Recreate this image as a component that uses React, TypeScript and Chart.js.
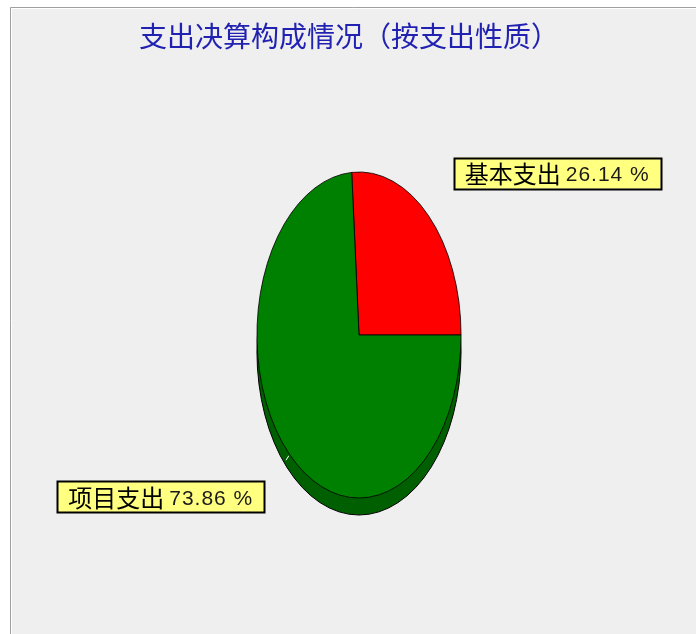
import { useEffect, useRef } from "react";
import { Chart, registerables } from "chart.js";

Chart.register(...registerables);

const TITLE = "支出决算构成情况（按支出性质）";
const categories = ["基本支出", "项目支出"];
const shares = [26.14, 73.86];
const sliceColors = ["#ff0000", "#008000"];
const SHADOW_COLOR = "#005f00";
const TITLE_COLOR = "#2222b2";

const W = 696;
const H = 634;
const SX = 0.626; // horizontal squash of the pie (ellipse)
const DEPTH = 17; // 3D depth of the pie

export default function App() {
  const ref = useRef<HTMLCanvasElement>(null);

  useEffect(() => {
    const canvas = ref.current!;

    const framePlugin = {
      id: "frame",
      beforeDraw(chart: any) {
        const ctx = chart.ctx;
        ctx.save();
        ctx.fillStyle = "#ffffff";
        ctx.fillRect(0, 0, W, H);
        ctx.fillStyle = "#efefef";
        ctx.fillRect(10, 7, W - 10, H - 7);
        ctx.strokeStyle = "#a0a0a0";
        ctx.lineWidth = 1;
        ctx.beginPath();
        ctx.moveTo(10.5, H);
        ctx.lineTo(10.5, 7.5);
        ctx.lineTo(W, 7.5);
        ctx.stroke();
        ctx.strokeStyle = "#ffffff";
        ctx.beginPath();
        ctx.moveTo(11.5, H);
        ctx.lineTo(11.5, 8.5);
        ctx.lineTo(W, 8.5);
        ctx.stroke();
        // title
        ctx.fillStyle = TITLE_COLOR;
        ctx.font = "28px 'Noto Sans CJK SC'";
        ctx.textAlign = "center";
        ctx.textBaseline = "middle";
        ctx.fillText(TITLE, 349, 36);
        ctx.restore();
      },
    };

    const ellipsePlugin = {
      id: "ellipse",
      beforeDatasetsDraw(chart: any) {
        const meta = chart.getDatasetMeta(0);
        const arc = meta.data[0];
        if (!arc) return;
        const { x, y, outerRadius } = arc;
        const ctx = chart.ctx;
        ctx.save();
        ctx.beginPath();
        ctx.ellipse(x, y + DEPTH, outerRadius * SX, outerRadius, 0, 0, Math.PI * 2);
        ctx.fillStyle = SHADOW_COLOR;
        ctx.fill();
        ctx.strokeStyle = "#000000";
        ctx.lineWidth = 1;
        ctx.stroke();
        ctx.restore();
        ctx.save();
        ctx.translate(x, y);
        ctx.scale(SX, 1);
        ctx.translate(-x, -y);
      },
      afterDatasetsDraw(chart: any) {
        chart.ctx.restore();
      },
    };

    const labelPlugin = {
      id: "sliceLabels",
      afterDraw(chart: any) {
        const meta = chart.getDatasetMeta(0);
        const ctx = chart.ctx;
        const values = chart.data.datasets[0].data as number[];
        meta.data.forEach((arc: any, i: number) => {
          const mid = (arc.startAngle + arc.endAngle) / 2;
          const c = Math.cos(mid);
          const s = Math.sin(mid);
          const ex = arc.x + arc.outerRadius * SX * c;
          const ey = arc.y + arc.outerRadius * s;
          const ax = ex + 37 * c;
          const ay = ey + 37 * s;
          ctx.save();
          // short white leader tick at the pie edge
          ctx.strokeStyle = "#ffffff";
          ctx.lineWidth = 1;
          ctx.beginPath();
          ctx.moveTo(ex + 1 * c, ey + 2 * s);
          ctx.lineTo(ex + 5 * c, ey + 8 * s);
          ctx.stroke();

          const name = chart.data.labels[i] as string;
          const num = `${values[i].toFixed(2)} %`;
          ctx.font = "24px 'Noto Sans CJK SC'";
          const wName = ctx.measureText(name).width;
          ctx.font = "21px 'Liberation Sans'";
          (ctx as any).letterSpacing = "1px";
          const wNum = ctx.measureText(num).width;
          (ctx as any).letterSpacing = "0px";
          const padL = 11;
          const padR = 11;
          const gap = 5;
          const bw = padL + wName + gap + wNum + padR;
          const bh = 31;
          const bx = c >= 0 ? ax : ax - bw;
          const by = s < 0 ? ay - bh : ay;
          ctx.fillStyle = "#ffff80";
          ctx.fillRect(bx, by, bw, bh);
          ctx.strokeStyle = "#000000";
          ctx.lineWidth = 2;
          ctx.strokeRect(Math.round(bx) + 0.5, Math.round(by) + 0.5, Math.round(bw), Math.round(bh));
          ctx.fillStyle = "#000000";
          ctx.textAlign = "left";
          ctx.textBaseline = "middle";
          const ty = by + bh / 2 + 1;
          ctx.font = "24px 'Noto Sans CJK SC'";
          ctx.fillText(name, bx + padL, ty);
          ctx.fillStyle = "#1a1a1a";
          ctx.font = "21px 'Liberation Sans'";
          (ctx as any).letterSpacing = "1px";
          ctx.fillText(num, bx + padL + wName + gap, ty + 1);
          (ctx as any).letterSpacing = "0px";
          ctx.restore();
        });
      },
    };

    const chart = new Chart(canvas, {
      type: "pie",
      data: {
        labels: categories,
        datasets: [
          {
            data: shares,
            backgroundColor: sliceColors,
            borderColor: "#000000",
            borderWidth: 1,
          },
        ],
      },
      options: {
        responsive: false,
        animation: false,
        events: [],
        rotation: 90 - shares[0] * 3.6,
        radius: 163,
        layout: { padding: { top: 160, bottom: 124, left: 100, right: 78 } },
        plugins: {
          legend: { display: false },
          tooltip: { enabled: false },
          title: { display: false },
        },
      },
      plugins: [framePlugin, ellipsePlugin, labelPlugin],
    });

    return () => chart.destroy();
  }, []);

  return (
    <div style={{ position: "fixed", left: 0, top: 0, width: W, height: H }}>
      <canvas ref={ref} width={W} height={H} style={{ display: "block", width: W, height: H }} />
    </div>
  );
}
